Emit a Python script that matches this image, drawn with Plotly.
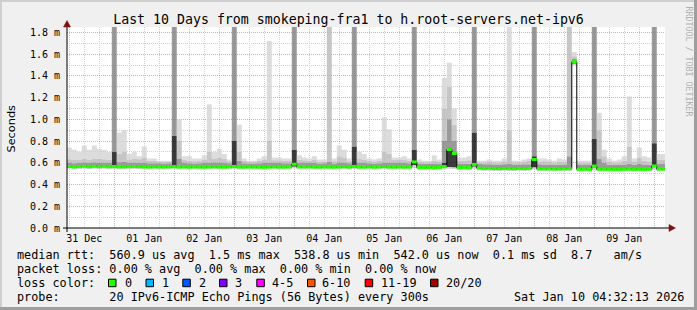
import pandas as pd
import plotly.graph_objects as go

# ---------------- data (2-hour buckets starting 2025-12-31 03:00) ----------------
bucket_start = "2025-12-31 03:00"
bucket_hours = 2
x_range = ["2025-12-31 05:05", "2026-01-10 04:17"]

median = [
    .566, .566, .562, .566, .568, .564, .568, .565, .568, .564, .566, .562,
    .563, .565, .566, .564, .562, .561, .563, .562, .561, .563, .565, .561,
    .562, .560, .562, .561, .560, .562, .563, .561, .560, .562, .566, .561,
    .560, .562, .561, .560, .559, .561, .563, .561, .560, .562, .587, .563,
    .562, .564, .561, .560, .562, .561, .560, .562, .564, .561, .566, .560,
    .561, .563, .560, .562, .565, .561, .560, .562, .560, .561, .608, .558,
    .557, .558, .556, .557, .565, .722, .686, .556, .557, .555, .585, .552,
    .548, .549, .547, .546, .548, .547, .546, .548, .547, .549, .630, .545,
    .544, .545, .543, .544, .545, .546, 1.530, .540, .541, .539, .570, .541,
    .540, .541, .539, .539, .541, .542, .540, .541, .539, .542, .571, .542,
    .542,
]
smoke_min = [
    .544, .545, .541, .544, .546, .543, .546, .543, .546, .542, .544, .540,
    .541, .543, .544, .542, .540, .539, .541, .540, .539, .541, .543, .539,
    .540, .538, .540, .539, .538, .540, .541, .539, .538, .540, .544, .539,
    .538, .540, .539, .538, .537, .539, .541, .539, .538, .540, .548, .541,
    .540, .542, .539, .538, .540, .539, .538, .540, .542, .539, .544, .538,
    .539, .541, .538, .540, .543, .539, .538, .540, .538, .539, .549, .536,
    .535, .536, .534, .535, .540, .545, .543, .534, .535, .533, .544, .530,
    .526, .527, .525, .524, .526, .525, .524, .526, .525, .527, .538, .523,
    .522, .523, .521, .522, .523, .524, 1.500, .518, .519, .517, .530, .519,
    .518, .519, .517, .517, .519, .520, .518, .519, .517, .520, .531, .520,
    .520,
]
smoke_p40 = [
    .560, .560, .556, .560, .562, .558, .562, .559, .562, .558, .560, .556,
    .557, .559, .560, .558, .556, .555, .557, .556, .555, .557, .559, .555,
    .556, .554, .556, .555, .554, .556, .557, .555, .554, .556, .560, .555,
    .554, .556, .555, .554, .553, .555, .557, .555, .554, .556, .565, .557,
    .556, .558, .555, .554, .556, .555, .554, .556, .558, .555, .560, .554,
    .555, .557, .554, .556, .559, .555, .554, .556, .554, .555, .580, .552,
    .551, .552, .550, .551, .558, .562, .560, .550, .551, .549, .565, .546,
    .542, .543, .541, .540, .542, .541, .540, .542, .541, .543, .560, .539,
    .538, .539, .537, .538, .539, .540, 1.515, .534, .535, .533, .560, .535,
    .534, .535, .533, .533, .535, .536, .534, .535, .533, .536, .562, .536,
    .536,
]
smoke_p60 = [
    .578, .578, .574, .578, .580, .576, .580, .577, .580, .576, .700, .574,
    .575, .577, .578, .576, .574, .573, .575, .574, .573, .575, .850, .573,
    .574, .572, .574, .573, .572, .574, .575, .573, .572, .574, .800, .573,
    .572, .574, .573, .572, .571, .573, .575, .573, .572, .574, .720, .575,
    .574, .576, .573, .572, .574, .573, .572, .574, .576, .573, .750, .572,
    .573, .575, .572, .574, .577, .573, .572, .574, .572, .573, .720, .570,
    .569, .570, .568, .569, .600, .740, .690, .568, .569, .567, .880, .564,
    .560, .561, .559, .558, .560, .559, .558, .560, .559, .561, .660, .557,
    .556, .557, .555, .556, .557, .558, 1.540, .552, .553, .551, .820, .553,
    .552, .553, .551, .551, .553, .554, .552, .553, .551, .554, .780, .554,
    .554,
]
smoke_p75 = [
    .598, .600, .596, .598, .602, .598, .602, .600, .600, .598, 2.0, .605,
    .610, .598, .600, .598, .600, .596, .596, .595, .594, .596, 2.0, .640,
    .600, .596, .594, .595, .598, .600, .602, .604, .600, .596, 2.0, .620,
    .596, .594, .594, .596, .598, .600, .598, .598, .596, .596, 2.0, .600,
    .598, .598, .600, .594, .596, .610, .594, .604, .600, .596, 2.0, .600,
    .598, .596, .594, .596, .600, .600, .598, .598, .598, .596, 2.0, .594,
    .592, .592, .594, .592, .800, 1.000, .800, .594, .594, .592, 2.0, .590,
    .586, .586, .584, .584, .586, .590, .584, .584, .586, .586, 2.0, .586,
    .584, .584, .582, .584, .584, .660, 1.560, .580, .580, .580, 2.0, .640,
    .600, .582, .580, .580, .584, .590, .582, .590, .584, .582, 2.0, .590,
    .590,
]
smoke_p90 = [
    .630, .632, .626, .628, .640, .630, .640, .634, .632, .628, 2.0, .680,
    .700, .630, .640, .632, .650, .620, .620, .612, .610, .612, 2.0, .800,
    .630, .620, .615, .618, .630, .700, .640, .650, .640, .614, 2.0, .700,
    .620, .610, .612, .620, .630, .800, .624, .624, .620, .620, 2.0, .630,
    .624, .620, .630, .612, .610, 2.0, .614, .660, .650, .615, 2.0, .640,
    .630, .620, .612, .616, .700, .680, .626, .626, .630, .618, 2.0, .610,
    .606, .606, .620, .608, 1.100, 1.300, .950, .620, .620, .624, 2.0, .604,
    .604, .608, .604, .604, .610, .900, .604, .604, .610, .616, 2.0, .610,
    .614, .608, .600, .612, .606, 2.0, 1.580, .600, .600, .598, 2.0, .900,
    .660, .610, .598, .604, .620, .750, .612, .650, .620, .610, 2.0, .630,
    .630,
]
smoke_max = [
    .74, .74, .72, .70, .76, .72, .76, .73, .72, .70, 2.0, .88,
    .90, .68, .70, .66, .75, .64, .64, .62, .62, .62, 2.0, 1.00,
    .66, .66, .64, .64, .67, 1.14, .70, .73, .68, .63, 2.0, .95,
    .64, .62, .62, .64, .66, 1.72, .65, .65, .64, .64, 2.0, .67,
    .65, .64, .66, .63, .63, 2.0, .64, .76, .72, .64, 2.0, .70,
    .68, .64, .63, .64, 1.02, .91, .65, .65, .66, .64, 2.0, .63,
    .62, .62, .67, .63, 1.38, 1.52, 1.10, .65, .65, .66, 2.0, .62,
    .62, .63, .62, .62, .64, 2.0, .62, .62, .63, .64, 2.0, .64,
    .64, .63, .62, .64, .63, 2.0, 1.62, .62, .62, .62, 2.0, 1.06,
    .72, .64, .62, .63, .66, 1.21, .64, .74, .66, .65, 2.0, .68,
    .68,
]

y_tick_step = 0.2
loss_labels = ["0", "1", "2", "3", "4-5", "6-10", "11-19", "20/20"]
loss_colors = ["#26ff00", "#00b8ff", "#0059ff", "#7e00ff", "#ff00ff", "#ff5500", "#ff0000", "#a10000"]

legend_line1 = "median rtt:  560.9 us avg  1.5 ms max  538.8 us min  542.0 us now  0.1 ms sd  8.7   am/s"
legend_line2 = "packet loss: 0.00 % avg  0.00 % max  0.00 % min  0.00 % now"
legend_line3 = "loss color:"
legend_line4 = "probe:       20 IPv6-ICMP Echo Pings (56 Bytes) every 300s"
stamp = "Sat Jan 10 04:32:13 2026"
title = "Last 10 Days from smokeping-fra1 to h.root-servers.net-ipv6"

# ---------------- figure ----------------
MONO = "DejaVu Sans Mono"
FW, FH = 697, 310
L, R, T, B = 67, 32, 27, 82
W, H = FW - L - R, FH - T - B


def px(x):
    return (x - L) / W


def py(y):
    return (FH - B - y) / H


def nb(s):
    return s.replace(" ", "\u00a0")


def over_white(hexgray, a=0.8):
    v = int(hexgray[1:3], 16)
    c = max(0, round(255 - (255 - v) / a))
    return f"rgba({c},{c},{c},{a})"


times = pd.date_range(bucket_start, periods=len(median) + 1, freq=f"{bucket_hours}h")


def stepped(vals):
    return list(vals) + [vals[-1]]


fig = go.Figure()

layers = [
    (smoke_min, None),
    (smoke_p40, "#d4d4d4"),
    (smoke_p60, "#3c3c3c"),
    (smoke_p75, "#9a9a9a"),
    (smoke_p90, "#c6c6c6"),
    (smoke_max, "#dcdcdc"),
]
for vals, col in layers:
    fig.add_trace(go.Scatter(
        x=times, y=stepped(vals), mode="lines", line=dict(width=0, shape="hv"),
        fill=None if col is None else "tonexty",
        fillcolor=None if col is None else over_white(col),
        hoverinfo="skip", showlegend=False,
    ))

# median: black stepped line, green horizontal segments on top (loss = 0)
fig.add_trace(go.Scatter(
    x=times, y=stepped(median), mode="lines",
    line=dict(color="#000000", width=1, shape="hv"),
    hoverinfo="skip", showlegend=False,
))
gx, gy = [], []
for i, m in enumerate(median):
    gx += [times[i], times[i + 1], None]
    gy += [m, m, None]
fig.add_trace(go.Scatter(
    x=gx, y=gy, mode="lines", line=dict(color=loss_colors[0], width=3),
    hoverinfo="skip", showlegend=False,
))

grid_major = "rgba(255,0,0,0.38)"
grid_minor = "#cfcfcf"

fig.update_xaxes(
    type="date", range=x_range, tick0="2025-12-31", dtick=86400000,
    ticklabelmode="period", tickformat="%d %b",
    showgrid=True, gridcolor=grid_major, griddash="1px,1px", gridwidth=1,
    minor=dict(dtick=21600000, showgrid=True, gridcolor=grid_minor, griddash="1px,1px", ticks=""),
    ticks="", ticklabelstandoff=3, showline=False, zeroline=False,
    tickfont=dict(family=MONO, size=10, color="#000"),
)
fig.update_yaxes(
    range=[0, 1.85], tick0=0, dtick=y_tick_step, tickformat=".1f", ticksuffix=" m",
    showgrid=True, gridcolor=grid_major, griddash="1px,1px", gridwidth=1,
    minor=dict(dtick=y_tick_step / 2, showgrid=True, gridcolor=grid_minor, griddash="1px,1px", ticks=""),
    ticks="", ticklabelstandoff=6, showline=False, zeroline=False,
    tickfont=dict(family=MONO, size=10, color="#000"),
)

shapes = []
# frame
shapes.append(dict(type="rect", xref="paper", yref="paper", x0=px(0), x1=px(FW), y0=py(0), y1=py(2),
                   fillcolor="#cfcfcf", line=dict(width=0), layer="above"))
shapes.append(dict(type="rect", xref="paper", yref="paper", x0=px(0), x1=px(2), y0=py(0), y1=py(FH),
                   fillcolor="#cfcfcf", line=dict(width=0), layer="above"))
shapes.append(dict(type="rect", xref="paper", yref="paper", x0=px(FW - 3), x1=px(FW), y0=py(0), y1=py(FH),
                   fillcolor="#9e9e9e", line=dict(width=0), layer="above"))
shapes.append(dict(type="rect", xref="paper", yref="paper", x0=px(0), x1=px(FW), y0=py(FH - 3), y1=py(FH),
                   fillcolor="#9e9e9e", line=dict(width=0), layer="above"))
# axes with arrows
shapes.append(dict(type="line", xref="paper", yref="paper", x0=px(63), x1=px(671), y0=0, y1=0,
                   line=dict(color="#000", width=1), layer="above"))
shapes.append(dict(type="line", xref="paper", yref="paper", x0=0, x1=0, y0=py(232), y1=py(24),
                   line=dict(color="#000", width=1), layer="above"))
shapes.append(dict(type="path", xref="paper", yref="paper",
                   path=f"M {px(669)} {py(224.5)} L {px(675.5)} {py(228)} L {px(669)} {py(231.5)} Z",
                   fillcolor="#7f1010", line=dict(color="#7f1010", width=0.5), layer="above"))
shapes.append(dict(type="path", xref="paper", yref="paper",
                   path=f"M {px(63.5)} {py(27)} L {px(67)} {py(20.5)} L {px(70.5)} {py(27)} Z",
                   fillcolor="#7f1010", line=dict(color="#7f1010", width=0.5), layer="above"))

annotations = []


def txt(x, y, s, size=11.8, family=MONO, color="#000", anchor="left", angle=0):
    annotations.append(dict(
        xref="paper", yref="paper", x=px(x), y=py(y), text=nb(s), showarrow=False,
        xanchor=anchor, yanchor="middle", textangle=angle, borderpad=0,
        font=dict(family=family, size=size, color=color),
    ))


line_y = [255.0, 268.9, 282.8, 296.7]
txt(15.5, line_y[0], legend_line1)
txt(15.5, line_y[1], legend_line2)
txt(15.5, line_y[2], legend_line3)
txt(15.5, line_y[3], legend_line4)
txt(512.5, line_y[3], stamp)

box_x = [108.5, 146.0, 182.8, 219.5, 256.8, 307.5, 365.2, 430.5]
label_x = [123.5, 160.8, 197.5, 234.3, 271.0, 321.0, 379.5, 444.5]
for bx, lx, lab, col in zip(box_x, label_x, loss_labels, loss_colors):
    shapes.append(dict(type="rect", xref="paper", yref="paper",
                       x0=px(bx), x1=px(bx + 7.5), y0=py(line_y[2] + 3.9), y1=py(line_y[2] - 3.6),
                       fillcolor=col, line=dict(color="#000", width=1), layer="above"))
    txt(lx, line_y[2], lab)

txt(10.5, 128, "Seconds", size=11.3, family="DejaVu Sans", anchor="center", angle=-90)
txt(688.5, 61, "RRDTOOL / TOBI OETIKER", size=8.3, color="#b0b0b0", anchor="center", angle=90)

fig.update_layout(
    width=FW, height=FH,
    margin=dict(l=L, r=R, t=T, b=B, pad=0),
    paper_bgcolor="#f0f0f0", plot_bgcolor="#ffffff",
    title=dict(text=title, x=0.5, xref="container", xanchor="center",
               y=1 - 19.5 / FH, yref="container", yanchor="middle",
               font=dict(family=MONO, size=13.25, color="#000")),
    shapes=shapes, annotations=annotations, showlegend=False,
)

fig.write_html("out.html")
